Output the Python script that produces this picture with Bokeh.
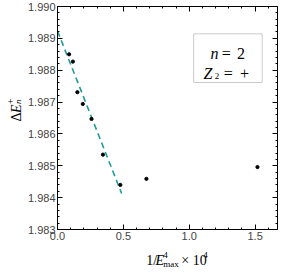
import math
from bokeh.plotting import figure
from bokeh.layouts import row, column
from bokeh.models import (Range1d, LinearAxis, SingleIntervalTicker, PrintfTickFormatter,
                          Label, BoxAnnotation)
from bokeh.embed import file_html
from bokeh.resources import INLINE

# data
x_pts = [0.088, 0.117, 0.151, 0.192, 0.258, 0.345, 0.477, 0.675, 1.518]
y_pts = [1.98850, 1.98827, 1.98731, 1.98694, 1.98647, 1.98535, 1.98440, 1.98459, 1.98496]
fit_x = [0.0, 0.487]
fit_y = [1.98923, 1.98413]
x_lo, x_hi = 0.0, 1.67
y_lo, y_hi = 1.983, 1.990
x_tick_step = 0.5
y_tick_step = 0.001

SERIF = "Liberation Serif"
TOT_W, TOT_H = 279, 267

# ---- main plot ----
YLW = 24            # width of y-label strip
W, H = TOT_W - YLW, 244
BL, BR, BT, BB = 30, 2, 6, 15
FW, FH = W - BL - BR, H - BT - BB
X0, Y0 = YLW + BL, BT   # frame origin in layout pixels

p = figure(width=W, height=H, output_backend="svg", toolbar_location=None,
           x_range=Range1d(x_lo, x_hi), y_range=Range1d(y_lo, y_hi),
           min_border_left=BL, min_border_right=BR, min_border_top=BT, min_border_bottom=BB,
           x_axis_type=None, y_axis_type=None)
p.grid.visible = False
p.outline_line_color = "black"
p.outline_line_width = 1
p.background_fill_color = "white"
p.border_fill_alpha = 0

def mk_axis(kind, show):
    ax = LinearAxis()
    if kind == "x":
        ax.ticker = SingleIntervalTicker(interval=x_tick_step, num_minor_ticks=5)
        ax.formatter = PrintfTickFormatter(format="%.1f")
    else:
        ax.ticker = SingleIntervalTicker(interval=y_tick_step, num_minor_ticks=5)
        ax.formatter = PrintfTickFormatter(format="%.3f")
    ax.major_tick_in = 5
    ax.major_tick_out = 0
    ax.minor_tick_in = 2
    ax.minor_tick_out = 0
    ax.axis_line_color = "black"
    ax.major_tick_line_color = "black"
    ax.minor_tick_line_color = "black"
    ax.major_label_text_font = "Liberation Sans"
    ax.major_label_text_font_size = "11px"
    ax.major_label_text_color = "#444444"
    ax.major_label_standoff = 2
    if not show:
        ax.major_label_text_alpha = 0
        ax.major_label_text_font_size = "1px"
        ax.major_label_standoff = 0
    return ax

p.add_layout(mk_axis("x", True), "below")
p.add_layout(mk_axis("y", True), "left")
p.add_layout(mk_axis("x", False), "above")
p.add_layout(mk_axis("y", False), "right")

p.line(fit_x, fit_y, line_color="#1f9c9a", line_width=1.6, line_dash="6 4")
p.scatter(x_pts, y_pts, size=3.2, color="black")

def dx(px):
    return x_lo + (px - X0) / FW * (x_hi - x_lo)

def dy(py):
    return y_hi - (py - Y0) / FH * (y_hi - y_lo)

def lab(fig, text, x, y, size, italic=False, angle=0.0):
    fig.add_layout(Label(x=x, y=y, text=text, text_font=SERIF,
                         text_font_size=f"{size}px", text_color="black",
                         text_font_style="italic" if italic else "normal",
                         angle=angle, text_align="left", text_baseline="alphabetic"))

# inset box
p.add_layout(BoxAnnotation(left=dx(192), right=dx(261.5), top=dy(33.3), bottom=dy(82),
                           fill_color="white", fill_alpha=1.0,
                           line_color="#555555", line_width=1))
lab(p, "n", dx(209), dy(53), 16, italic=True)
lab(p, "=", dx(220.5), dy(53), 16)
lab(p, "2", dx(236), dy(53), 16)
lab(p, "Z", dx(202), dy(72.5), 16, italic=True)
lab(p, "2", dx(213.4), dy(75.5), 9)
lab(p, "=", dx(222.5), dy(72.5), 16)
lab(p, "+", dx(239), dy(72.5), 16)

def strip(w, h):
    f = figure(width=w, height=h, output_backend="svg", toolbar_location=None,
               x_range=Range1d(0, w), y_range=Range1d(h, 0),
               min_border=0, min_border_left=0, min_border_right=0,
               min_border_top=0, min_border_bottom=0,
               x_axis_type=None, y_axis_type=None)
    f.grid.visible = False
    f.outline_line_color = None
    f.background_fill_alpha = 0
    f.border_fill_alpha = 0
    return f

# y-axis label strip (local pixel coords)
yl = strip(YLW, TOT_H)
A = math.pi / 2
lab(yl, "\u0394", 16, 121, 14, angle=A)
lab(yl, "E", 16, 112.5, 14, italic=True, angle=A)
lab(yl, "+", 10, 103.5, 10, angle=A)
lab(yl, "n", 17, 103.5, 9, italic=True, angle=A)

# x-axis label strip (local pixel coords)
xl = strip(W, TOT_H - H)
lab(xl, "1/", 103, 16, 14)
lab(xl, "E", 113.5, 16, 14, italic=True)
lab(xl, "4", 122.5, 10, 9)
lab(xl, "max", 122.5, 19, 9)
lab(xl, "\u00d7 10", 143.5, 16, 14)
lab(xl, "4", 169, 10, 9)

layout = row(yl, column(p, xl, width=W, height=TOT_H), width=TOT_W, height=TOT_H)
open("out.html", "w").write(file_html(layout, INLINE))
